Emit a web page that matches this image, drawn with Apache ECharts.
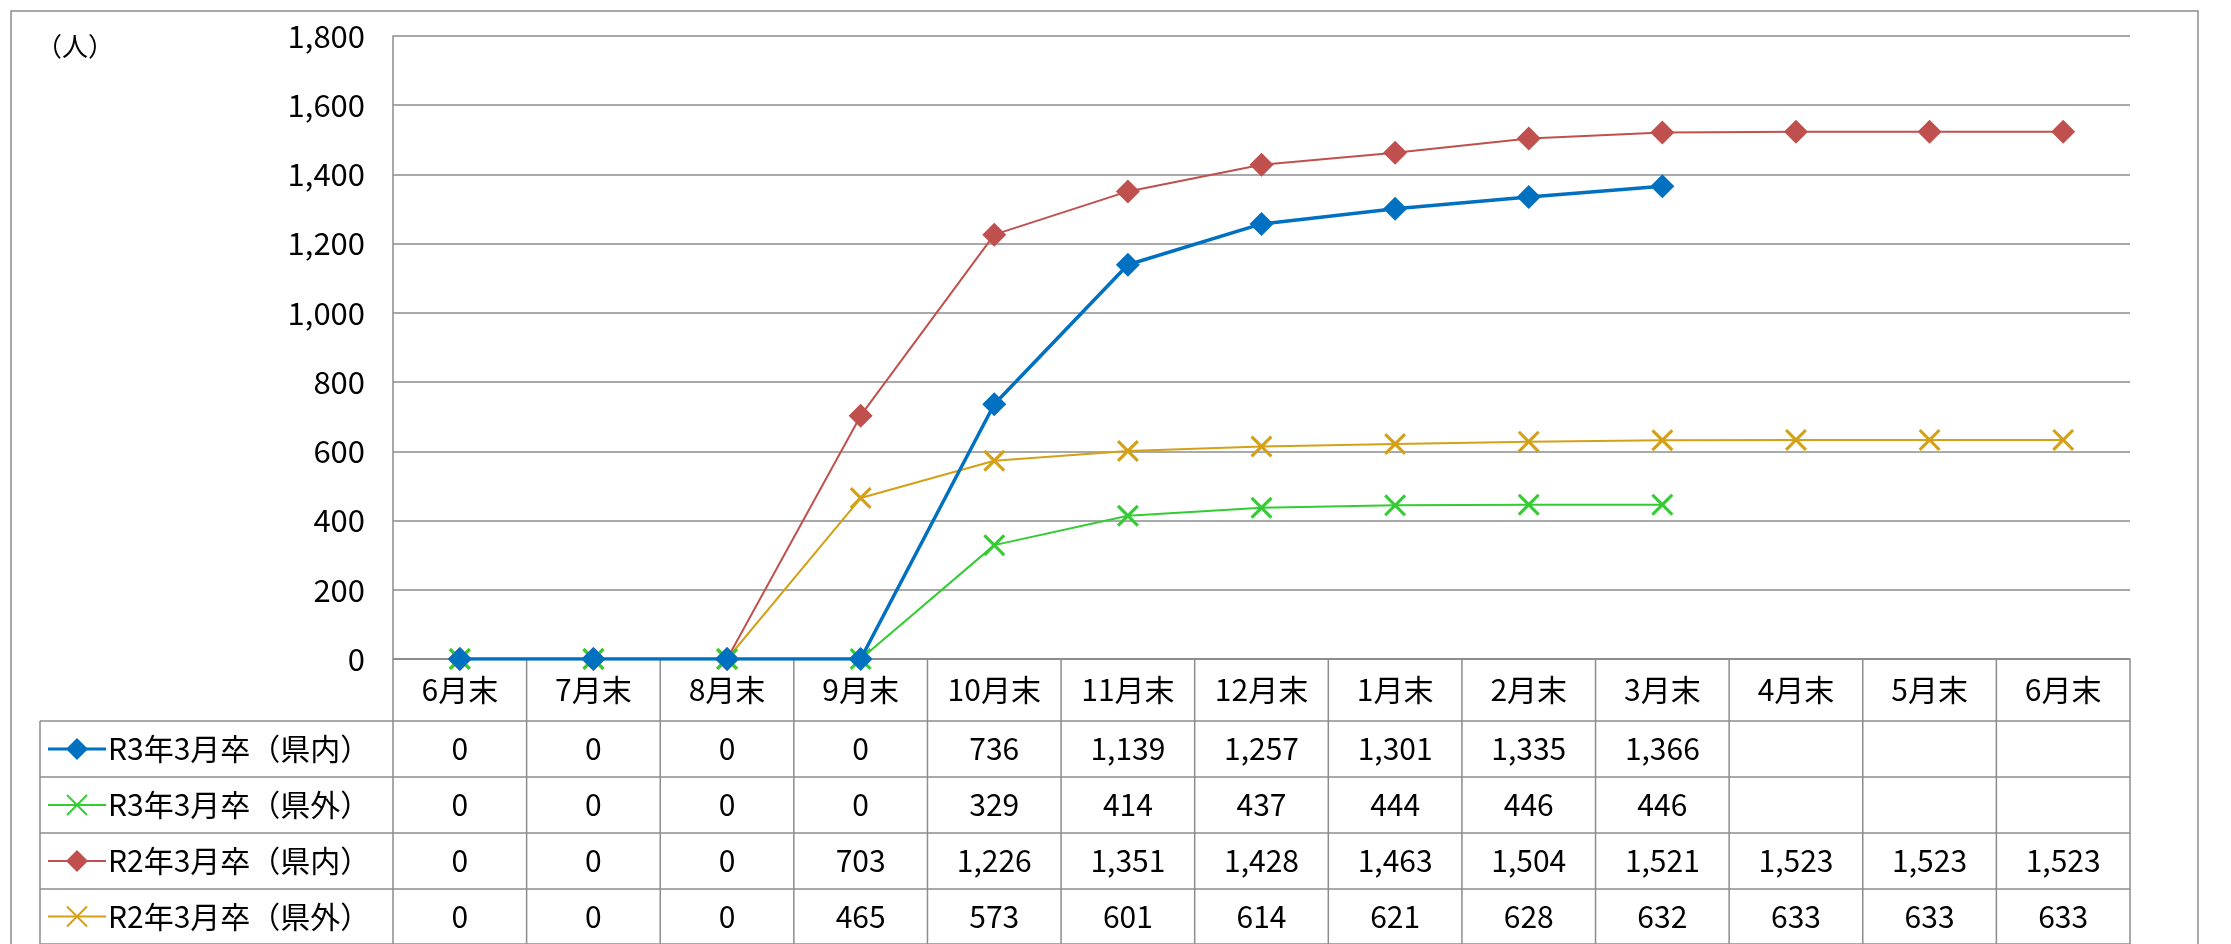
<!DOCTYPE html>
<html><head><meta charset="utf-8">
<script src="https://cdn.jsdelivr.net/npm/echarts@6/dist/echarts.min.js"></script>
<style>html,body{margin:0;background:#fff}#c{width:2231px;height:944px}</style>
</head><body><div id="c"></div>
<script>
var months = ['6月末', '7月末', '8月末', '9月末', '10月末', '11月末', '12月末', '1月末', '2月末', '3月末', '4月末', '5月末', '6月末'];
var names = ['R3年3月卒（県内）', 'R3年3月卒（県外）', 'R2年3月卒（県内）', 'R2年3月卒（県外）'];
var r3In = [0, 0, 0, 0, 736, 1139, 1257, 1301, 1335, 1366, null, null, null];
var r3Out = [0, 0, 0, 0, 329, 414, 437, 444, 446, 446, null, null, null];
var r2In = [0, 0, 0, 703, 1226, 1351, 1428, 1463, 1504, 1521, 1523, 1523, 1523];
var r2Out = [0, 0, 0, 465, 573, 601, 614, 621, 628, 632, 633, 633, 633];

var FONT = 'Noto Sans CJK JP';
var colors = ['#0070C0', '#33CC33', '#C0504D', '#D4A017'];
var cross = 'path://M0,1L1,0L5,4L9,0L10,1L6,5L10,9L9,10L5,6L1,10L0,9L4,5Z';
var symbols = ['diamond', cross, 'diamond', cross];
var allData = [r3In, r3Out, r2In, r2Out];

var L = 393, R = 2130, T = 36, B = 659;
var rowH = [62, 56, 56, 56, 55];
var tabL = 40;
var colW = (R - L) / months.length;

var chart = echarts.init(document.getElementById('c'));
var g = [];
function line(x1, y1, x2, y2) {
    g.push({type: 'line', shape: {x1: x1, y1: y1, x2: x2, y2: y2}, style: {stroke: '#8c8c8c', lineWidth: 1.5}, silent: true});
}
function text(x, y, s, align, size) {
    g.push({type: 'text', x: x, y: y, style: {text: s, font: (size || 30) + 'px "' + FONT + '"', fill: '#000', align: align || 'center', verticalAlign: 'middle'}});
}
// outer frame
g.push({type: 'rect', shape: {x: 11, y: 11, width: 2187, height: 940}, style: {fill: 'none', stroke: '#8c8c8c', lineWidth: 1.5}});
// table
var y = B;
var rowsY = [B];
rowH.forEach(function (h) { y += h; rowsY.push(y); });
line(L, B, R, B);
for (var i = 1; i < rowsY.length; i++) line(tabL, rowsY[i], R, rowsY[i]);
line(tabL, rowsY[1], tabL, 944);
for (var c = 0; c <= months.length; c++) line(L + c * colW, B, L + c * colW, 944);
months.forEach(function (m, c) { text(L + (c + 0.5) * colW, (rowsY[0] + rowsY[1]) / 2, m); });
allData.forEach(function (arr, r) {
    var cy = (rowsY[r + 1] + rowsY[r + 2]) / 2;
    g.push({type: 'line', shape: {x1: 48, y1: cy, x2: 106, y2: cy}, style: {stroke: colors[r], lineWidth: r === 0 ? 3 : 2}});
    if (r % 2 === 0) {
        g.push({type: 'polygon', shape: {points: [[77, cy - 11], [88, cy], [77, cy + 11], [66, cy]]}, style: {fill: colors[r]}});
    } else {
        g.push({type: 'line', shape: {x1: 67, y1: cy - 10, x2: 87, y2: cy + 10}, style: {stroke: colors[r], lineWidth: 2}});
        g.push({type: 'line', shape: {x1: 67, y1: cy + 10, x2: 87, y2: cy - 10}, style: {stroke: colors[r], lineWidth: 2}});
    }
    text(108, cy, names[r], 'left');
    arr.forEach(function (v, c) {
        if (v !== null) text(L + (c + 0.5) * colW, cy, v.toLocaleString('en-US'));
    });
});
text(36, 46, '（人）', 'left', 26);

var series = allData.map(function (arr, i) {
    return {
        name: names[i], type: 'line', data: arr, symbol: symbols[i],
        symbolSize: i % 2 ? 22 : 24,
        lineStyle: {color: colors[i], width: i === 0 ? 3.5 : 2},
        itemStyle: {color: colors[i]},
        z: 10 - i
    };
});

chart.setOption({
    animation: false,
    textStyle: {fontFamily: FONT},
    grid: {left: L, right: 2231 - R, top: T, bottom: 944 - B},
    xAxis: {
        type: 'category', data: months, boundaryGap: true,
        axisLine: {lineStyle: {color: '#8c8c8c', width: 1.5}},
        axisTick: {show: false}, axisLabel: {show: false},
        splitLine: {show: false}
    },
    yAxis: {
        type: 'value', min: 0, max: 1800, interval: 200,
        axisLine: {show: true, lineStyle: {color: '#8c8c8c', width: 1.5}},
        axisTick: {show: false},
        axisLabel: {color: '#000', fontSize: 31, margin: 28, fontFamily: FONT, formatter: function (v) { return v.toLocaleString('en-US'); }},
        splitLine: {lineStyle: {color: '#8c8c8c', width: 1.5}}
    },
    series: series,
    graphic: g
});
</script></body></html>
